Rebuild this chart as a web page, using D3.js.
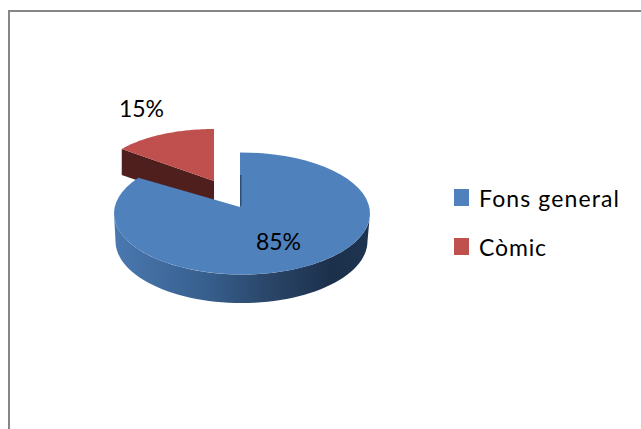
<!DOCTYPE html>
<html><head><meta charset="utf-8">
<script src="https://cdn.jsdelivr.net/npm/d3@7"></script>
<style>html,body{margin:0;padding:0;background:#fff}svg{display:block}text{font-family:Lato,"Open Sans",sans-serif;fill:#000}</style>
</head><body><svg id="c" width="641" height="429"></svg>
<script>
const categories = ["Fons general", "Còmic"];
const values = [85, 15];
const labels = ["85%", "15%"];
const topColors = ["#4f81bd", "#c0504d"];

const svg = d3.select("#c");
const defs = svg.append("defs");
const grad = defs.append("linearGradient").attr("id","side").attr("x1","0").attr("x2","1").attr("y1","0").attr("y2","0");
[[0,"#4a78b0"],[0.35,"#38608f"],[0.6,"#2a4669"],[0.85,"#1c304b"],[1,"#1e3450"]].forEach(([o,c])=>grad.append("stop").attr("offset",o).attr("stop-color",c));

// frame
svg.append("rect").attr("x",9).attr("y",11).attr("width",640).attr("height",430)
  .attr("fill","#fff").attr("stroke","#868686").attr("stroke-width",2);

const arcs = d3.pie().sort(null).startAngle(0).endAngle(2*Math.PI)(values);
const pt = (g,a) => [g.cx + g.rx*Math.sin(a), g.cy - g.ry*Math.cos(a)];
const rim = (g,a0,a1) => d3.range(0,61).map(i=>pt(g,a0+(a1-a0)*i/60));
const line = d3.line();

const blueTop = {cx:242,cy:213.5,rx:128,ry:61,ax:240,ay:207};
const blueBot = {cx:241.5,cy:241,rx:126,ry:62};
const redTop  = {cx:214,cy:177.5,rx:114,ry:48.5,ax:214,ay:181};
const redDepth = 26;

// red wedge
const r = arcs[1];
const redEdge = pt(redTop,r.startAngle);
svg.append("path").attr("fill","#4f1f1d").attr("d",line([
  redEdge,[redTop.ax,redTop.ay],[redTop.ax,redTop.ay+redDepth],[redEdge[0],redEdge[1]+redDepth]])+"Z");
svg.append("path").attr("fill",topColors[1]).attr("d",
  line([[redTop.ax,redTop.ay],...rim(redTop,r.startAngle,r.endAngle)])+"Z");

// blue wedge side
const b = arcs[0];
svg.append("path").attr("fill","url(#side)").attr("d",
  line([...rim(blueTop,Math.PI/2,3*Math.PI/2),...rim(blueBot,3*Math.PI/2,Math.PI/2)])+"Z");
// blue wedge top: the cut edge is vertical, so the rim starts right above the apex
const blueStart = b.startAngle + Math.asin((blueTop.ax-blueTop.cx)/blueTop.rx);
svg.append("path").attr("fill",topColors[0]).attr("d",
  line([[blueTop.ax,blueTop.ay],...rim(blueTop,blueStart,b.endAngle)])+"Z");
// slim inner cut face
svg.append("path").attr("fill","#2f5077").attr("d",
  line([[blueTop.ax,blueTop.ay],[blueTop.ax,blueTop.ay-32],[blueTop.ax+1.6,blueTop.ay-32],[blueTop.ax+1.6,blueTop.ay-2]])+"Z");

// data labels
svg.append("text").attr("x",278.5).attr("y",250).attr("text-anchor","middle").attr("font-size",23).text(labels[0]);
svg.append("text").attr("x",141.5).attr("y",117).attr("text-anchor","middle").attr("font-size",23).text(labels[1]);

// legend
const ly = d3.scalePoint().domain(categories).range([197.5,246.5]);
categories.forEach((c,i)=>{
  svg.append("rect").attr("x",454).attr("y",ly(c)-8.5).attr("width",15).attr("height",17).attr("fill",topColors[i]);
  svg.append("text").attr("x",479).attr("y",ly(c)+9.5).attr("font-size",23).attr("textLength",i==0?140:67).attr("lengthAdjust","spacing").text(c);
});
</script></body></html>
